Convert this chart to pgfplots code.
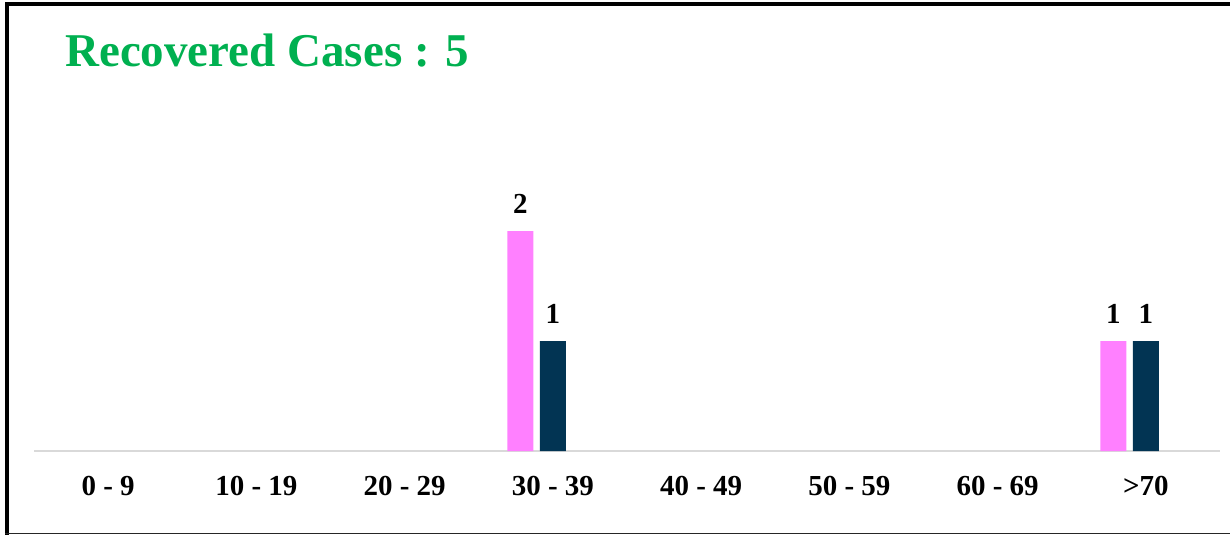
\documentclass[border=0pt]{standalone}
\usepackage{fontspec}
\setmainfont{Liberation Serif}
\usepackage{pgfplots}
\pgfplotsset{compat=1.18}

\definecolor{recgreen}{HTML}{00B050}
\definecolor{barpink}{HTML}{FF80FF}
\definecolor{barnavy}{HTML}{023453}
\definecolor{baseline}{HTML}{D9D9D9}

\begin{document}
\begin{tikzpicture}
    \path[use as bounding box] (0,0) rectangle (1230bp,535bp);

    \begin{axis}[
            at={(34bp,84bp)}, anchor=south west,
            scale only axis,
            width=1186bp, height=330bp,
            xmin=-0.5, xmax=7.5,
            ymin=0, ymax=3,
            hide y axis,
            axis x line*=bottom,
            x axis line style={draw=baseline, line width=1.5bp, -},
            xtick={0,...,7},
            xticklabels={0 - 9, 10 - 19, 20 - 29, 30 - 39, 40 - 49, 50 - 59, 60 - 69, >70},
            major tick length=0pt,
            xticklabel style={font=\fontsize{29bp}{32bp}\selectfont\bfseries, anchor=base, yshift=-44bp, inner sep=0pt},
            ybar, bar width=26bp,
            /pgf/number format/assume math mode=true,
            nodes near coords,
            every node near coord/.append style={font=\fontsize{29bp}{32bp}\selectfont\bfseries, anchor=base, inner sep=0pt, yshift=18bp},
            clip=false
        ]

        % pink series
        \addplot[fill=barpink, draw=none, bar shift=-32.5bp] coordinates {
                (3,2) (7,1)
            };

        % navy series
        \addplot[fill=barnavy, draw=none, bar shift=0bp] coordinates {
                (3,1) (7,1)
            };
    \end{axis}

    \node[anchor=base west, inner sep=0pt, text=recgreen,
        font=\fontsize{47bp}{56bp}\selectfont\bfseries] at (65bp,468bp) {Recovered Cases : 5};

    % frame
    \draw[line width=4bp, black] (7bp,0) -- (7bp,533bp);
    \draw[line width=4bp, black] (5bp,531bp) -- (1230bp,531bp);
    \draw[line width=1.5bp, black!85] (5bp,1.5bp) -- (1230bp,1.5bp);
\end{tikzpicture}
\end{document}
